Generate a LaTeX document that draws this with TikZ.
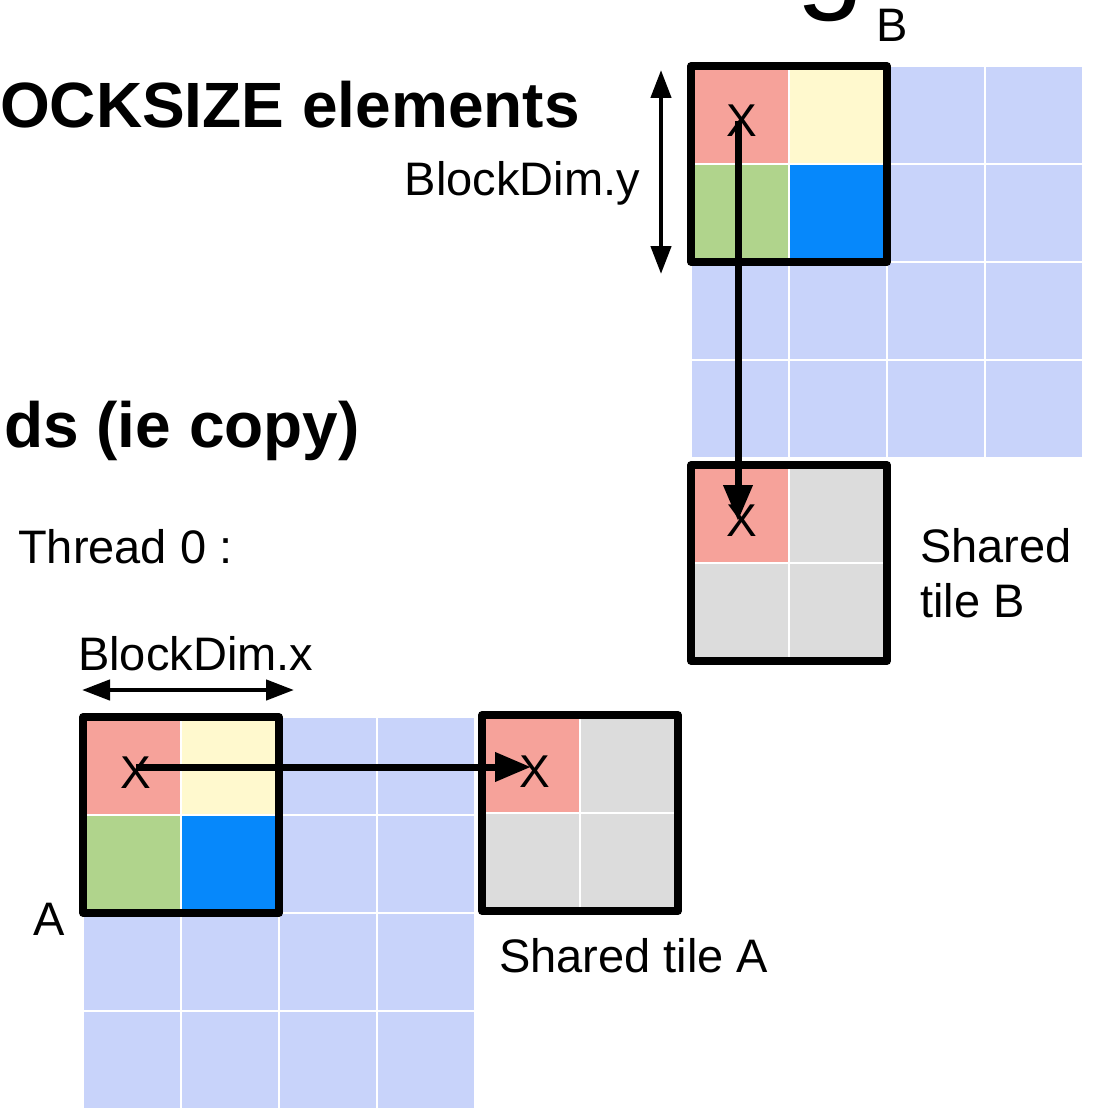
\documentclass[tikz,border=0pt]{standalone}
\usepackage{fontspec}
\setmainfont{Liberation Sans}
\usetikzlibrary{arrows.meta}
\definecolor{cred}{RGB}{246,162,154}
\definecolor{cyel}{RGB}{255,249,206}
\definecolor{cgrn}{RGB}{176,212,140}
\definecolor{cblu}{RGB}{6,136,251}
\definecolor{clb}{RGB}{200,211,250}
\definecolor{cgry}{RGB}{220,220,220}
\tikzset{
  lbl/.style={inner sep=0pt, font=\fontsize{47}{56}\selectfont},
  bold/.style={inner sep=0pt, font=\fontsize{64}{76}\selectfont\bfseries},
  xmark/.style={inner sep=0pt, font=\fontsize{46}{50}\selectfont},
  tileborder/.style={line width=7.5pt, line join=round},
  copyarrow/.style={line width=7pt, -{Triangle[length=36pt,width=28pt]}},
  dimarrow/.style={line width=4.5pt, {Triangle[length=28pt,width=20pt]}-{Triangle[length=28pt,width=20pt]}},
}
\newcommand{\lightgrid}[2]{%
  \foreach \i in {0,...,3}{\foreach \j in {0,...,3}{%
    \fill[clb] ({#1+98*\i},{#2+98*\j}) rectangle ++(96,96);}}}
\newcommand{\colortile}[2]{%
  \fill[cred] (#1,#2) rectangle ++(96,96);
  \fill[cyel] ({#1+98},#2) rectangle ++(96,96);
  \fill[cgrn] (#1,{#2+98}) rectangle ++(96,96);
  \fill[cblu] ({#1+98},{#2+98}) rectangle ++(96,96);
  \draw[tileborder] ({#1-1},{#2-1}) rectangle ({#1+195},{#2+195});}
\newcommand{\sharedtile}[2]{%
  \fill[cred] (#1,#2) rectangle ++(96,96);
  \fill[cgry] ({#1+98},#2) rectangle ++(96,96);
  \fill[cgry] (#1,{#2+98}) rectangle ++(96,96);
  \fill[cgry] ({#1+98},{#2+98}) rectangle ++(96,96);
  \draw[tileborder] ({#1-1},{#2-1}) rectangle ({#1+195},{#2+195});}
\begin{document}
\begin{tikzpicture}[x=1pt,y=-1pt]
\useasboundingbox (0,0) rectangle (1092,1110);
% title fragment (only its descender shows)
\begin{scope}
\clip (0,0) rectangle (1092,1110);
\node[inner sep=0pt, anchor=base west, font=\fontsize{122}{130}\selectfont] (ttl) at (796,-3) {g};
\end{scope}
\node[lbl, anchor=base west] (labB) at (876,42) {B};
\node[bold, anchor=base east] (t1) at (580,128) {OCKSIZE elements};
\node[bold, anchor=base east] (t2) at (360,447) {ds (ie copy)};
\node[lbl, anchor=base west] (thr) at (18,563) {Thread 0 :};
% matrix B
\lightgrid{692}{67}
\colortile{692}{67}
\sharedtile{692}{466}
% matrix A
\lightgrid{84}{718}
\colortile{84}{718}
\sharedtile{483}{716}
% labels
\node[lbl, anchor=base east] (bdy) at (640,195) {BlockDim.y};
\node[lbl, anchor=base west] (bdx) at (78,670) {BlockDim.x};
\node[lbl, anchor=base west] (labA) at (33,935) {A};
\node[lbl, anchor=base west] (sta) at (499,972) {Shared tile A};
\node[lbl, anchor=base west, align=left] (stb) at (920,617) {Shared\\[-1pt]tile B};
% x marks
\node[xmark] (xa) at (136,773) {X};
\node[xmark] (xsa) at (535,772) {X};
\node[xmark] (xb) at (742,121) {X};
\node[xmark] (xsb) at (742,521) {X};
% copy arrows
\draw[copyarrow] ([yshift=6pt]xa.center) -- ([xshift=-4pt,yshift=5pt]xsa.center);
\draw[copyarrow] ([xshift=-4pt]xb.center) -- ([xshift=-4pt]xsb.center);
% dimension arrows
\coordinate (dx1) at (82,690);
\coordinate (dx2) at (294,690);
\coordinate (dy1) at (661,70);
\coordinate (dy2) at (661,274);
\draw[dimarrow] (dx1) -- (dx2);
\draw[dimarrow] (dy1) -- (dy2);
\end{tikzpicture}
\end{document}
